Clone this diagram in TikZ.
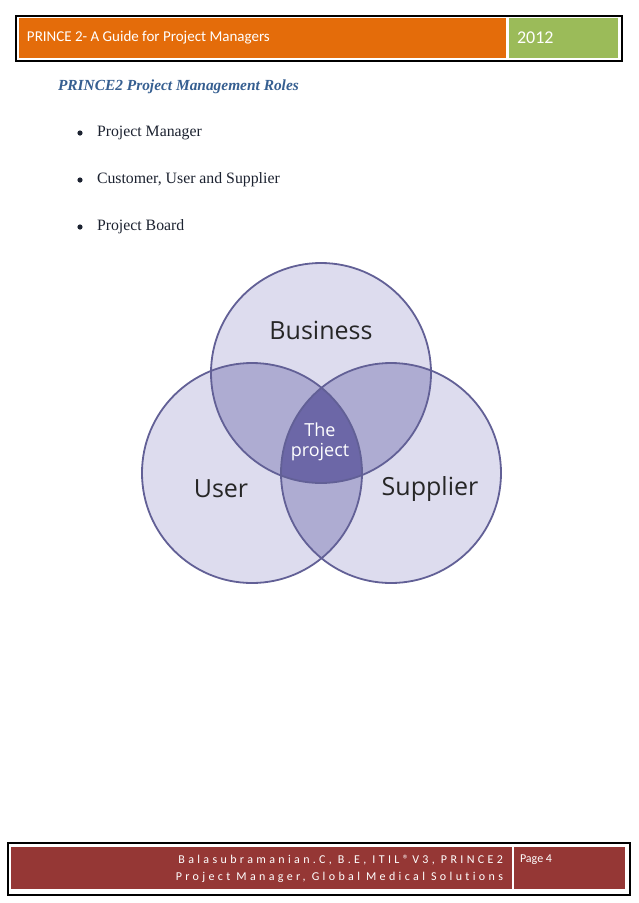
\documentclass[tikz,border=0pt]{standalone}
\usepackage{fontspec}
\setmainfont{Liberation Serif}
\newfontfamily\hdfont{Carlito}
\newfontfamily\ftfont[LetterSpace=28,Ligatures=NoCommon]{Carlito}
\newfontfamily\vennfont{Open Sans}
\usepackage{xcolor}
\usetikzlibrary{positioning,calc}

\definecolor{hdorange}{RGB}{228,108,10}
\definecolor{hdgreen}{RGB}{155,187,89}
\definecolor{ftred}{RGB}{149,55,53}
\definecolor{titleblue}{RGB}{54,95,145}
\definecolor{bodytext}{RGB}{28,34,48}
\definecolor{vennlight}{RGB}{221,220,238}
\definecolor{vennmid}{RGB}{174,172,210}
\definecolor{venndark}{RGB}{108,103,167}
\definecolor{vennline}{RGB}{98,96,150}

\tikzset{
    plain/.style={inner sep=0pt, outer sep=0pt},
    hdtext/.style={plain, text=white, font=\hdfont\fontsize{15}{18}\selectfont},
    fttext/.style={plain, text=white, font=\ftfont\fontsize{12}{14}\selectfont},
    bodyline/.style={plain, text=bodytext, font=\fontsize{15.8}{18}\selectfont},
    vennlabel/.style={plain, text=black!85, font=\vennfont\fontsize{25}{29}\selectfont},
    ring/.style={draw=vennline, line width=1.8pt}
}

\begin{document}
\begin{tikzpicture}[x=1pt, y=-1pt]
    \useasboundingbox (0,0) rectangle (638,903);
    \fill[white] (0,0) rectangle (638,903);

    % header bar
    \draw[line width=1.2pt] (16,16) rectangle (622,61);
    \fill[hdorange] (19,18) rectangle (506,58);
    \fill[hdgreen] (509,18) rectangle (618,58);
    \node[hdtext, anchor=west] (hdtitle) at (27,38) {PRINCE 2- A Guide for Project Managers};
    \node[hdtext, anchor=west, font=\hdfont\fontsize{18}{20}\selectfont] (hdyear) at (517,38) {2012};

    % heading and bullet list
    \node[plain, anchor=west, text=titleblue, font=\bfseries\itshape\fontsize{15.4}{18}\selectfont] (roles) at (58,87) {PRINCE2 Project Management Roles};
    \foreach \i/\txt in {0/Project Manager, 1/{Customer, User and Supplier}, 2/Project Board} {
        \fill[bodytext] (80,133+47*\i) circle (2.6pt);
        \node[bodyline, anchor=west] (item\i) at (97,133+47*\i) {\txt};
    }

    % venn diagram
    \coordinate (business) at (321,373);
    \coordinate (user) at (252,473);
    \coordinate (supplier) at (391,473);
    \foreach \c in {business, user, supplier}
        \fill[vennlight] (\c) circle (110pt);
    \begin{scope}
        \clip (business) circle (110pt);
        \fill[vennmid] (user) circle (110pt);
        \fill[vennmid] (supplier) circle (110pt);
    \end{scope}
    \begin{scope}
        \clip (user) circle (110pt);
        \fill[vennmid] (supplier) circle (110pt);
    \end{scope}
    \begin{scope}
        \clip (business) circle (110pt);
        \clip (user) circle (110pt);
        \fill[venndark] (supplier) circle (110pt);
    \end{scope}
    \foreach \c in {business, user, supplier}
        \draw[ring] (\c) circle (110pt);

    \node[vennlabel] (lblbusiness) at (321,330) {Business};
    \node[vennlabel] (lbluser) at (221,489) {User};
    \node[vennlabel] (lblsupplier) at (430,489) {Supplier};
    \node[plain, text=white, align=center, font=\vennfont\fontsize{18}{20}\selectfont] (lblproject) at (320,442) {The\\project};

    % footer bar
    \draw[line width=1.2pt] (8,843) rectangle (630,895);
    \fill[ftred] (11,847) rectangle (512,889);
    \fill[ftred] (514,847) rectangle (625,889);
    \node[fttext, anchor=east] (author) at (503,860) {Balasubramanian.C, B.E, ITIL®V3, PRINCE2};
    \node[fttext, anchor=east] (position) at (503,877) {Project Manager, Global Medical Solutions};
    \node[plain, anchor=west, text=white, font=\hdfont\fontsize{12}{14}\selectfont] (pageno) at (520,860) {Page 4};
\end{tikzpicture}
\end{document}
